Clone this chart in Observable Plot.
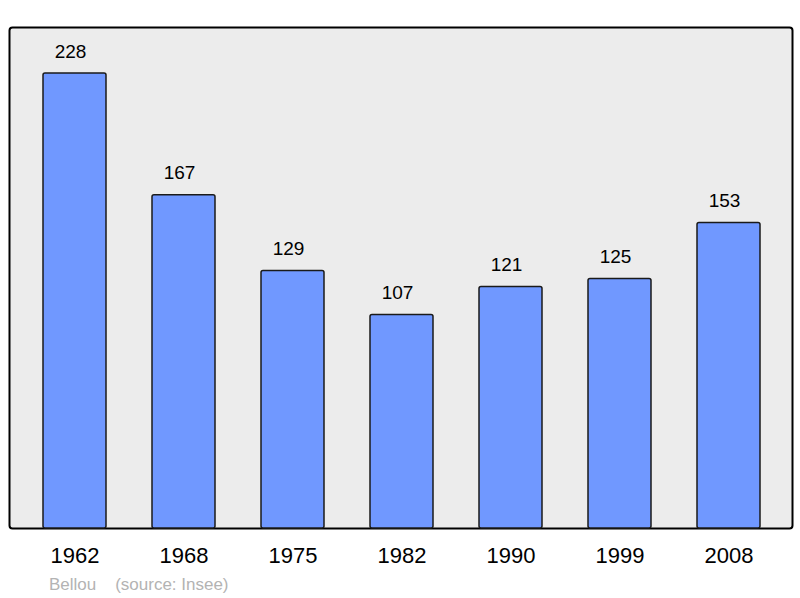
<!DOCTYPE html>
<html>
<head>
<meta charset="utf-8">
<script src="https://cdn.jsdelivr.net/npm/d3@7"></script>
<script src="https://cdn.jsdelivr.net/npm/@observablehq/plot@0.6"></script>
<style>
  html, body { margin: 0; padding: 0; background: #fff; }
  #wrap { position: relative; width: 800px; height: 598px; font-family: "Liberation Sans", Arial, sans-serif; }
  #caption { position: absolute; left: 49px; top: 575px; font-size: 17px; color: #b3b3b3; white-space: pre; }
</style>
</head>
<body>
<div id="wrap"><div id="chart"></div><div id="caption"></div></div>
<script>
const years = ["1962", "1968", "1975", "1982", "1990", "1999", "2008"];
const population = [228, 167, 129, 107, 121, 125, 153];
const captionText = "Bellou    (source: Insee)";

const data = years.map((y, i) => ({year: y, pop: population[i]}));

const chart = Plot.plot({
  width: 800,
  height: 598,
  marginLeft: 9,
  marginRight: 8,
  marginTop: 27,
  marginBottom: 70,
  style: {fontFamily: "Liberation Sans, Arial, sans-serif", background: "#fff"},
  x: {domain: years, range: [8.5, 794], paddingInner: 0.424, paddingOuter: 0.3016, label: null},
  y: {domain: [0, 251], axis: null},
  marks: [
    Plot.frame({fill: "#ececec", stroke: "#000", strokeWidth: 2, rx: 3}),
    Plot.barY(data, {x: "year", y: "pop", fill: "#7098ff", stroke: "#1a1a1a", strokeWidth: 1.5, rx: 2}),
    Plot.text(data, {x: "year", y: "pop", text: d => String(d.pop), dy: -22, dx: -4.5, fontSize: 19, fill: "#000"}),
    Plot.axisX({tickSize: 0, tickPadding: 19, fontSize: 22, fill: "#000", label: null})
  ]
});
document.getElementById("chart").appendChild(chart);
document.getElementById("caption").textContent = captionText;
</script>
</body>
</html>
